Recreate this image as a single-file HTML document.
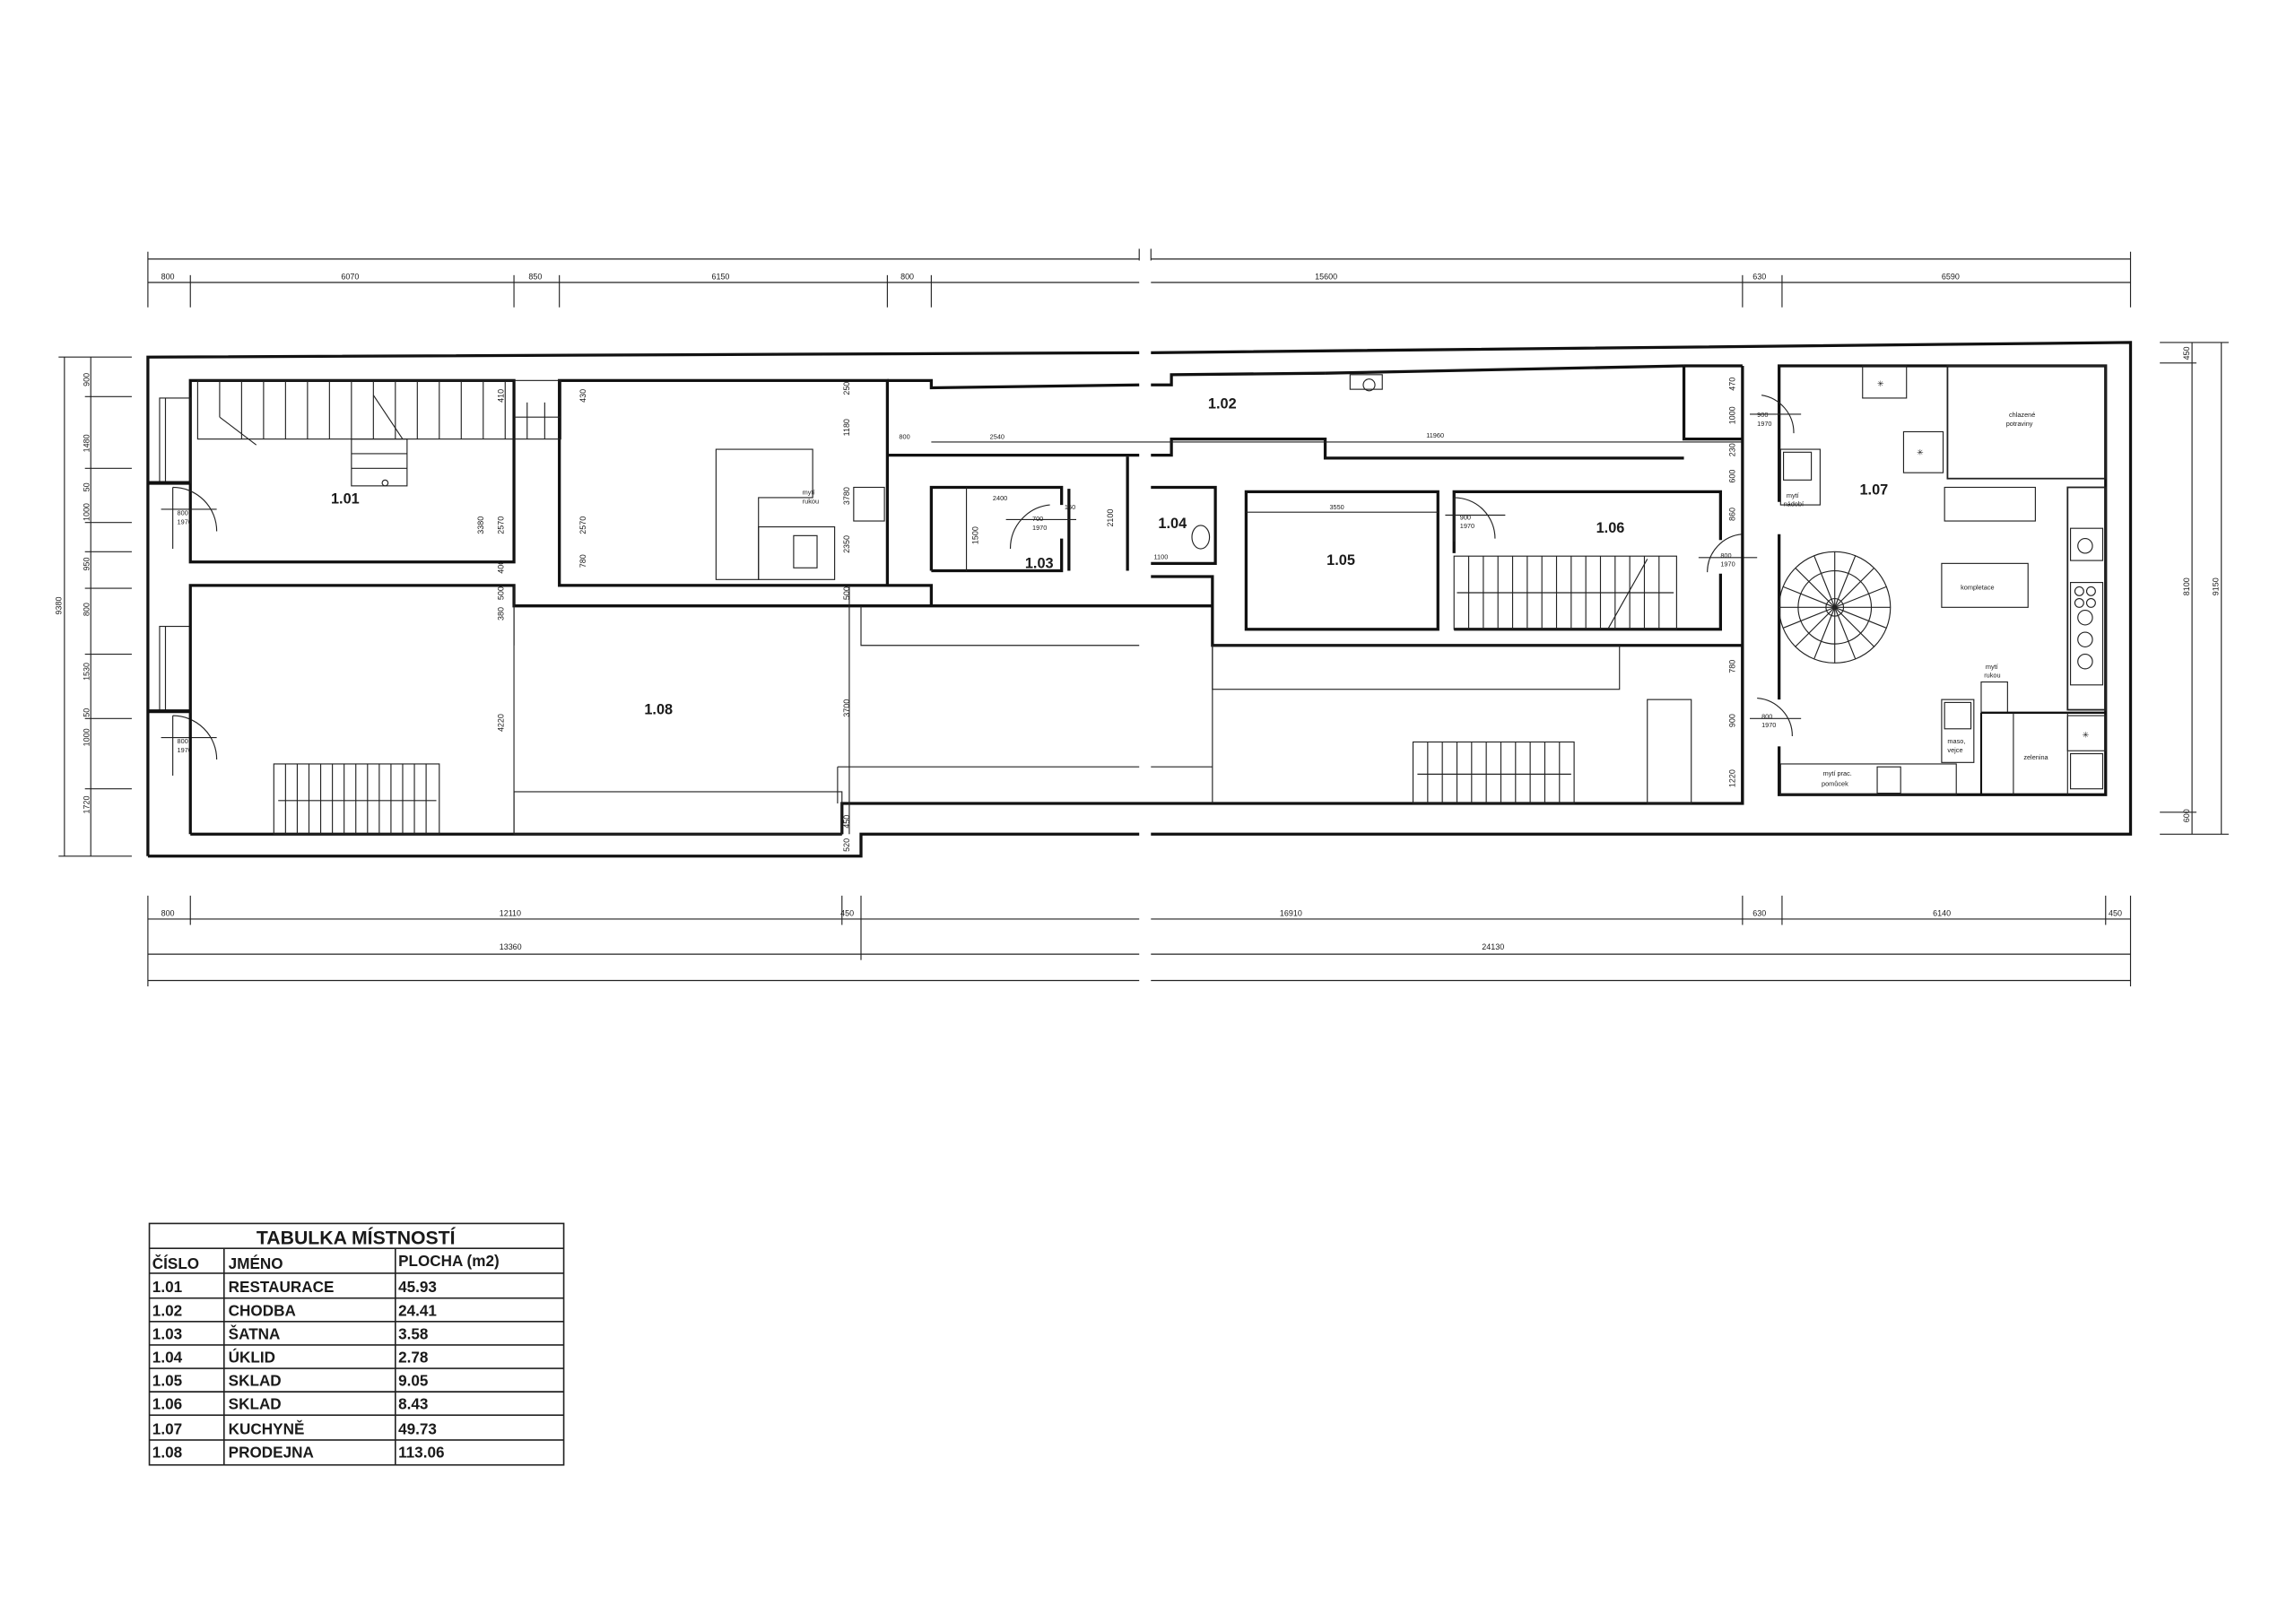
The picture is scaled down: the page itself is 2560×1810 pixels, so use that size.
<!DOCTYPE html>
<html><head><meta charset="utf-8"><style>
html,body{margin:0;padding:0;background:#fff;}
svg{display:block;}
text{font-family:"Liberation Sans",sans-serif;fill:#1a1a1a;}
.d{font-size:5.5px;}
.r{font-size:10px;font-weight:bold;}
.s{font-size:4.5px;}
.w{stroke:#111;stroke-width:2;fill:none;}
.t{stroke:#222;stroke-width:0.7;fill:none;}
.m{stroke:#222;stroke-width:1.1;fill:none;}
.tb{font-size:10.5px;font-weight:bold;}
</style></head><body>
<svg width="2560" height="1810" viewBox="0 0 1568 1109" preserveAspectRatio="none" xmlns="http://www.w3.org/2000/svg">
<rect width="1568" height="1109" fill="#fff"/>
<!-- top dimensions -->
<g class="t">
<line x1="101" y1="177" x2="778" y2="177"/><line x1="786" y1="177" x2="1455" y2="177"/>
<line x1="101" y1="193" x2="778" y2="193"/><line x1="786" y1="193" x2="1455" y2="193"/>
<line x1="101" y1="172" x2="101" y2="210"/><line x1="130" y1="188" x2="130" y2="210"/>
<line x1="351" y1="188" x2="351" y2="210"/><line x1="382" y1="188" x2="382" y2="210"/>
<line x1="606" y1="188" x2="606" y2="210"/><line x1="636" y1="188" x2="636" y2="210"/>
<line x1="1190" y1="188" x2="1190" y2="210"/><line x1="1217" y1="188" x2="1217" y2="210"/>
<line x1="1455" y1="172" x2="1455" y2="210"/>
</g>
<text class="d" x="110" y="191">800</text><text class="d" x="233" y="191">6070</text>
<text class="d" x="361" y="191">850</text><text class="d" x="486" y="191">6150</text>
<text class="d" x="615" y="191">800</text><text class="d" x="898" y="191">15600</text>
<text class="d" x="1197" y="191">630</text><text class="d" x="1326" y="191">6590</text>

<!-- left dims -->
<g class="t">
<line x1="44" y1="244" x2="44" y2="585"/><line x1="62" y1="244" x2="62" y2="585"/>
<line x1="40" y1="244" x2="90" y2="244"/><line x1="40" y1="585" x2="90" y2="585"/>
<line x1="58" y1="271" x2="90" y2="271"/><line x1="58" y1="320" x2="90" y2="320"/>
<line x1="58" y1="357" x2="90" y2="357"/><line x1="58" y1="377" x2="90" y2="377"/>
<line x1="58" y1="402" x2="90" y2="402"/><line x1="58" y1="447" x2="90" y2="447"/>
<line x1="58" y1="491" x2="90" y2="491"/><line x1="58" y1="539" x2="90" y2="539"/>
</g>
<g class="d">
<text transform="translate(61,264) rotate(-90)">900</text>
<text transform="translate(61,309) rotate(-90)">1480</text>
<text transform="translate(61,336) rotate(-90)">50</text>
<text transform="translate(61,356) rotate(-90)">1000</text>
<text transform="translate(61,390) rotate(-90)">950</text>
<text transform="translate(61,421) rotate(-90)">800</text>
<text transform="translate(61,465) rotate(-90)">1530</text>
<text transform="translate(61,490) rotate(-90)">50</text>
<text transform="translate(61,510) rotate(-90)">1000</text>
<text transform="translate(61,556) rotate(-90)">1720</text>
<text transform="translate(42,420) rotate(-90)">9380</text>
</g>

<!-- right dims -->
<g class="t">
<line x1="1497" y1="234" x2="1497" y2="570"/><line x1="1517" y1="234" x2="1517" y2="570"/>
<line x1="1475" y1="234" x2="1522" y2="234"/><line x1="1475" y1="248" x2="1500" y2="248"/>
<line x1="1475" y1="555" x2="1500" y2="555"/><line x1="1475" y1="570" x2="1522" y2="570"/>
</g>
<g class="d">
<text transform="translate(1495,246) rotate(-90)">450</text>
<text transform="translate(1495,407) rotate(-90)">8100</text>
<text transform="translate(1515,407) rotate(-90)">9150</text>
<text transform="translate(1495,562) rotate(-90)">600</text>
</g>

<!-- bottom dims -->
<g class="t">
<line x1="101" y1="628" x2="778" y2="628"/><line x1="786" y1="628" x2="1455" y2="628"/>
<line x1="101" y1="652" x2="778" y2="652"/><line x1="786" y1="652" x2="1455" y2="652"/>
<line x1="101" y1="670" x2="778" y2="670"/><line x1="786" y1="670" x2="1455" y2="670"/>
<line x1="101" y1="612" x2="101" y2="674"/><line x1="130" y1="612" x2="130" y2="632"/>
<line x1="575" y1="612" x2="575" y2="632"/><line x1="588" y1="612" x2="588" y2="656"/>
<line x1="1190" y1="612" x2="1190" y2="632"/><line x1="1217" y1="612" x2="1217" y2="632"/>
<line x1="1438" y1="612" x2="1438" y2="632"/><line x1="1455" y1="612" x2="1455" y2="674"/>
</g>
<text class="d" x="110" y="626">800</text><text class="d" x="341" y="626">12110</text>
<text class="d" x="574" y="626">450</text><text class="d" x="874" y="626">16910</text>
<text class="d" x="1197" y="626">630</text><text class="d" x="1320" y="626">6140</text>
<text class="d" x="1440" y="626">450</text>
<text class="d" x="341" y="649">13360</text><text class="d" x="1012" y="649">24130</text>

<!-- outer walls -->
<g class="w">
<polyline points="101,585 101,244 778,241"/>
<polyline points="786,241 1455,234 1455,570 786,570"/>
<polyline points="778,570 588,570 588,585 101,585"/>
</g>

<!-- room 1.01 -->
<rect class="w" x="130" y="260" width="221" height="124"/>
<rect class="w" x="382" y="260" width="224" height="140"/>
<!-- left windows -->
<g class="t">
<rect x="109" y="272" width="21" height="58"/><rect x="109" y="428" width="21" height="58"/>
<line x1="113" y1="272" x2="113" y2="330"/><line x1="113" y1="428" x2="113" y2="486"/>
</g>
<line x1="101" y1="330" x2="130" y2="330" stroke="#111" stroke-width="2.5"/>
<line x1="101" y1="486" x2="130" y2="486" stroke="#111" stroke-width="2.5"/>
<path class="t" d="M118,333 A30,30 0 0 1 148,363 M110,348 L148,348 M118,333 L118,375"/>
<path class="t" d="M118,489 A30,30 0 0 1 148,519 M110,504 L148,504 M118,489 L118,530"/>
<text class="s" x="121" y="352">800</text><text class="s" x="121" y="358">1970</text>
<text class="s" x="121" y="508">800</text><text class="s" x="121" y="514">1970</text>
<!-- stairs 1.01 -->
<g class="t">
<rect x="135" y="260" width="248" height="40"/>
<line x1="150" y1="260" x2="150" y2="285"/><line x1="165" y1="260" x2="165" y2="300"/>
<line x1="180" y1="260" x2="180" y2="300"/><line x1="195" y1="260" x2="195" y2="300"/>
<line x1="210" y1="260" x2="210" y2="300"/><line x1="225" y1="260" x2="225" y2="300"/>
<line x1="240" y1="260" x2="240" y2="300"/><line x1="255" y1="260" x2="255" y2="300"/>
<line x1="270" y1="260" x2="270" y2="300"/><line x1="285" y1="260" x2="285" y2="300"/>
<line x1="300" y1="260" x2="300" y2="300"/><line x1="315" y1="260" x2="315" y2="300"/>
<line x1="330" y1="260" x2="330" y2="300"/><line x1="345" y1="260" x2="345" y2="300"/>
<line x1="360" y1="275" x2="360" y2="300"/><line x1="372" y1="275" x2="372" y2="300"/>
<line x1="351" y1="285" x2="383" y2="285"/>
<rect x="240" y="300" width="38" height="32"/>
<line x1="240" y1="310" x2="278" y2="310"/><line x1="240" y1="320" x2="278" y2="320"/>
<circle cx="263" cy="330" r="2"/>
<line x1="150" y1="285" x2="175" y2="304"/><line x1="255" y1="270" x2="275" y2="300"/>
</g>
<text class="r" x="226" y="344">1.01</text>
<!-- kitchen counter room -->
<path class="t" d="M489,307 L555,307 L555,340 L518,340 L518,396 L489,396 Z"/>
<rect class="t" x="518" y="360" width="52" height="36"/>
<rect class="t" x="583" y="333" width="21" height="23"/><rect class="t" x="542" y="366" width="16" height="22"/>
<text class="s" x="548" y="338">mytí</text><text class="s" x="548" y="344">rukou</text>

<!-- 1.08 area -->
<g class="w">
<polyline points="130,570 130,400 351,400 351,414 828,414"/>
<polyline points="130,570 575,570"/>
<polyline points="575,570 575,549 1190,549 1190,441 828,441 828,394 786,394"/>
</g>
<g class="t">
<polyline points="588,414 588,441 778,441"/>
<line x1="351" y1="414" x2="351" y2="441"/>
<rect x="351" y="541" width="224" height="29"/>
<line x1="572" y1="524" x2="778" y2="524"/><line x1="572" y1="524" x2="572" y2="549"/>
<line x1="786" y1="524" x2="828" y2="524"/>
<line x1="828" y1="441" x2="828" y2="549"/>
<rect x="828" y="441" width="278" height="30"/>
<rect x="1125" y="478" width="30" height="71"/>
<line x1="351" y1="400" x2="351" y2="570"/><line x1="580" y1="400" x2="580" y2="570"/>
</g>
<!-- stairs lower left -->
<g class="t">
<rect x="187" y="522" width="113" height="48"/>
<line x1="195" y1="522" x2="195" y2="570"/><line x1="203" y1="522" x2="203" y2="570"/>
<line x1="211" y1="522" x2="211" y2="570"/><line x1="219" y1="522" x2="219" y2="570"/>
<line x1="227" y1="522" x2="227" y2="570"/><line x1="235" y1="522" x2="235" y2="570"/>
<line x1="243" y1="522" x2="243" y2="570"/><line x1="251" y1="522" x2="251" y2="570"/>
<line x1="259" y1="522" x2="259" y2="570"/><line x1="267" y1="522" x2="267" y2="570"/>
<line x1="275" y1="522" x2="275" y2="570"/><line x1="283" y1="522" x2="283" y2="570"/>
<line x1="291" y1="522" x2="291" y2="570"/>
<line x1="190" y1="547" x2="298" y2="547"/>
</g>
<text class="r" x="440" y="488">1.08</text>
<g class="d">
<text transform="translate(330,365) rotate(-90)">3380</text>
<text transform="translate(344,365) rotate(-90)">2570</text>
<text transform="translate(400,365) rotate(-90)">2570</text>
<text transform="translate(344,500) rotate(-90)">4220</text>
<text transform="translate(580,490) rotate(-90)">3700</text>
<text transform="translate(580,345) rotate(-90)">3780</text>
<text transform="translate(580,298) rotate(-90)">1180</text>
<text transform="translate(580,378) rotate(-90)">2350</text>
<text transform="translate(580,410) rotate(-90)">500</text>
<text transform="translate(580,566) rotate(-90)">450</text>
<text transform="translate(580,582) rotate(-90)">520</text>
<text transform="translate(400,388) rotate(-90)">780</text>
<text transform="translate(344,392) rotate(-90)">400</text>
<text transform="translate(344,410) rotate(-90)">500</text>
<text transform="translate(344,424) rotate(-90)">380</text>
<text transform="translate(344,275) rotate(-90)">410</text>
<text transform="translate(400,275) rotate(-90)">430</text>
<text transform="translate(580,270) rotate(-90)">250</text>
</g>

<!-- corridor 1.02 -->
<g class="w">
<polyline points="606,400 636,400 636,413"/>
<polyline points="606,260 636,260 636,265 778,263"/>
<polyline points="786,263 800,263 800,256 905,255"/><polyline points="905,255 1150,250"/>
<polyline points="1150,250 1150,300 1190,300"/><polyline points="1150,250 1190,250"/>
<polyline points="606,311 778,311"/><polyline points="786,311 800,311 800,300 905,300 905,313 1150,313"/>
</g>
<line class="t" x1="636" y1="302" x2="1190" y2="302"/>
<text class="s" x="614" y="300">800</text><text class="s" x="676" y="300">2540</text>
<text class="s" x="974" y="299">11960</text>
<text class="r" x="825" y="279">1.02</text>
<g class="t"><rect x="922" y="256" width="22" height="10"/><circle cx="935" cy="263" r="4"/></g>
<!-- 1.03 -->
<g class="w">
<polyline points="636,390 636,333 725,333 725,345"/><polyline points="725,368 725,390 636,390"/>
<line x1="730" y1="334" x2="730" y2="390"/><line x1="770" y1="312" x2="770" y2="390"/>
</g>
<line class="t" x1="660" y1="333" x2="660" y2="390"/>
<path class="t" d="M717,345 A30,30 0 0 0 690,375 L690,375 M687,355 L735,355"/>
<text class="s" x="678" y="342">2400</text><text class="s" x="705" y="356">700</text><text class="s" x="705" y="362">1970</text>
<text class="s" x="727" y="348">150</text>
<text class="r" x="700" y="388">1.03</text>
<text transform="translate(760,360) rotate(-90)" class="d">2100</text>
<text transform="translate(668,372) rotate(-90)" class="d">1500</text>
<!-- 1.04 -->
<polyline class="w" points="786,333 830,333 830,385 786,385"/>
<text class="r" x="791" y="361">1.04</text>
<text class="s" x="788" y="382">1100</text>
<ellipse class="t" cx="820" cy="367" rx="6" ry="8"/>
<!-- 1.05 / 1.06 -->
<rect class="w" x="851" y="336" width="131" height="94"/>
<line class="t" x1="851" y1="350" x2="982" y2="350"/>
<text class="s" x="908" y="348">3550</text>
<text class="r" x="906" y="386">1.05</text>
<polyline class="w" points="993,378 993,336 1175,336 1175,369"/>
<polyline class="w" points="1175,392 1175,430 993,430"/>
<path class="t" d="M993,340 A28,28 0 0 1 1021,368 M987,352 L1028,352 M993,340 L993,370"/>
<text class="s" x="997" y="355">900</text><text class="s" x="997" y="361">1970</text>
<text class="r" x="1090" y="364">1.06</text>
<g class="t">
<rect x="993" y="380" width="152" height="50"/>
<line x1="1003" y1="380" x2="1003" y2="430"/><line x1="1013" y1="380" x2="1013" y2="430"/>
<line x1="1023" y1="380" x2="1023" y2="430"/><line x1="1033" y1="380" x2="1033" y2="430"/>
<line x1="1043" y1="380" x2="1043" y2="430"/><line x1="1053" y1="380" x2="1053" y2="430"/>
<line x1="1063" y1="380" x2="1063" y2="430"/><line x1="1073" y1="380" x2="1073" y2="430"/>
<line x1="1083" y1="380" x2="1083" y2="430"/><line x1="1093" y1="380" x2="1093" y2="430"/>
<line x1="1103" y1="380" x2="1103" y2="430"/><line x1="1113" y1="380" x2="1113" y2="430"/>
<line x1="1123" y1="380" x2="1123" y2="430"/><line x1="1133" y1="380" x2="1133" y2="430"/>
<line x1="995" y1="405" x2="1143" y2="405"/><line x1="1098" y1="430" x2="1125" y2="382"/>
</g>
<path class="t" d="M1190,365 A26,26 0 0 0 1166,391 M1160,381 L1200,381"/>
<text class="s" x="1175" y="381">800</text><text class="s" x="1175" y="387">1970</text>
<!-- stairs lower right -->
<g class="t">
<rect x="965" y="507" width="110" height="42"/>
<line x1="975" y1="507" x2="975" y2="549"/><line x1="985" y1="507" x2="985" y2="549"/>
<line x1="995" y1="507" x2="995" y2="549"/><line x1="1005" y1="507" x2="1005" y2="549"/>
<line x1="1015" y1="507" x2="1015" y2="549"/><line x1="1025" y1="507" x2="1025" y2="549"/>
<line x1="1035" y1="507" x2="1035" y2="549"/><line x1="1045" y1="507" x2="1045" y2="549"/>
<line x1="1055" y1="507" x2="1055" y2="549"/><line x1="1065" y1="507" x2="1065" y2="549"/>
<line x1="968" y1="529" x2="1073" y2="529"/>
</g>
<g class="d">
<text transform="translate(1185,267) rotate(-90)">470</text>
<text transform="translate(1185,290) rotate(-90)">1000</text>
<text transform="translate(1185,312) rotate(-90)">230</text>
<text transform="translate(1185,330) rotate(-90)">600</text>
<text transform="translate(1185,356) rotate(-90)">860</text>
<text transform="translate(1185,460) rotate(-90)">780</text>
<text transform="translate(1185,497) rotate(-90)">900</text>
<text transform="translate(1185,538) rotate(-90)">1220</text>
</g>

<!-- kitchen 1.07 -->
<g class="w">
<polyline points="1215,343 1215,250 1438,250 1438,543 1215,543 1215,510"/>
<line x1="1215" y1="365" x2="1215" y2="478"/>
<line x1="1190" y1="250" x2="1190" y2="549"/>
</g>
<path class="t" d="M1203,270 A26,26 0 0 1 1225,296 M1195,283 L1230,283"/>
<text class="s" x="1200" y="285">900</text><text class="s" x="1200" y="291">1970</text>
<path class="t" d="M1200,477 A26,26 0 0 1 1224,503 M1195,491 L1230,491"/>
<text class="s" x="1203" y="491">800</text><text class="s" x="1203" y="497">1970</text>
<rect class="t" x="1272" y="250" width="30" height="22"/><text class="d" x="1282" y="264">✳</text>
<rect class="m" x="1330" y="250" width="108" height="77"/>
<text class="s" x="1372" y="285">chlazené</text><text class="s" x="1370" y="291">potraviny</text>
<rect class="t" x="1300" y="295" width="27" height="28"/><text class="d" x="1309" y="311">✳</text>
<text class="r" x="1270" y="338">1.07</text>
<rect class="t" x="1216" y="307" width="27" height="38"/><rect class="t" x="1218" y="309" width="19" height="19"/>
<text class="s" x="1220" y="340">mytí</text><text class="s" x="1218" y="346">nádobí</text>
<rect class="t" x="1328" y="333" width="62" height="23"/>
<rect class="m" x="1412" y="333" width="26" height="152"/>
<g class="t">
<circle cx="1424" cy="373" r="5"/>
<circle cx="1420" cy="404" r="3"/><circle cx="1428" cy="404" r="3"/>
<circle cx="1420" cy="412" r="3"/><circle cx="1428" cy="412" r="3"/>
<circle cx="1424" cy="422" r="5"/><circle cx="1424" cy="437" r="5"/><circle cx="1424" cy="452" r="5"/>
<rect x="1414" y="361" width="22" height="22"/><rect x="1414" y="398" width="22" height="70"/>
</g>
<rect class="t" x="1326" y="385" width="59" height="30"/>
<text class="s" x="1339" y="403">kompletace</text>
<g class="t">
<circle cx="1253" cy="415" r="38"/><circle cx="1253" cy="415" r="25"/><circle cx="1253" cy="415" r="6"/>
<line x1="1253" y1="377" x2="1253" y2="453"/><line x1="1215" y1="415" x2="1291" y2="415"/>
<line x1="1226" y1="388" x2="1280" y2="442"/><line x1="1226" y1="442" x2="1280" y2="388"/>
<line x1="1239" y1="380" x2="1267" y2="450"/><line x1="1239" y1="450" x2="1267" y2="380"/>
<line x1="1218" y1="401" x2="1288" y2="429"/><line x1="1218" y1="429" x2="1288" y2="401"/>
</g>
<text class="s" x="1356" y="457">mytí</text><text class="s" x="1355" y="463">rukou</text>
<rect class="t" x="1353" y="466" width="18" height="21"/>
<rect class="t" x="1326" y="478" width="22" height="43"/><rect class="t" x="1328" y="480" width="18" height="18"/>
<text class="s" x="1330" y="508">maso,</text><text class="s" x="1330" y="514">vejce</text>
<line x1="1353" y1="487" x2="1438" y2="487" stroke="#111" stroke-width="1.5"/>
<line x1="1353" y1="487" x2="1353" y2="543" stroke="#111" stroke-width="1.3"/>
<line class="t" x1="1375" y1="487" x2="1375" y2="543"/><line class="t" x1="1412" y1="487" x2="1412" y2="543"/>
<text class="s" x="1382" y="519">zelenina</text>
<rect class="t" x="1412" y="489" width="26" height="24"/><text class="d" x="1422" y="504">✳</text>
<rect class="t" x="1414" y="515" width="22" height="24"/>
<rect class="t" x="1216" y="522" width="120" height="21"/><rect class="t" x="1282" y="524" width="16" height="18"/>
<text class="s" x="1245" y="530">mytí prac.</text><text class="s" x="1244" y="537">pomůcek</text>

<!-- break marks -->
<line class="t" x1="778" y1="170" x2="778" y2="178"/><line class="t" x1="786" y1="170" x2="786" y2="178"/>

<!-- table -->
<g stroke="#222" stroke-width="1" fill="none">
<rect x="102" y="836" width="283" height="165"/>
<line x1="102" y1="853" x2="385" y2="853"/>
<line x1="102" y1="870" x2="385" y2="870"/>
<line x1="102" y1="887" x2="385" y2="887"/>
<line x1="102" y1="903" x2="385" y2="903"/>
<line x1="102" y1="919" x2="385" y2="919"/>
<line x1="102" y1="935" x2="385" y2="935"/>
<line x1="102" y1="951" x2="385" y2="951"/>
<line x1="102" y1="967" x2="385" y2="967"/>
<line x1="102" y1="984" x2="385" y2="984"/>
<line x1="153" y1="853" x2="153" y2="1001"/>
<line x1="270" y1="853" x2="270" y2="1001"/>
</g>
<text class="tb" x="243" y="850" text-anchor="middle" style="font-size:13px">TABULKA MÍSTNOSTÍ</text>
<g class="tb">
<text x="104" y="867">ČÍSLO</text><text x="156" y="867">JMÉNO</text><text x="272" y="865">PLOCHA (m2)</text>
<text x="104" y="883">1.01</text><text x="156" y="883">RESTAURACE</text><text x="272" y="883">45.93</text>
<text x="104" y="899">1.02</text><text x="156" y="899">CHODBA</text><text x="272" y="899">24.41</text>
<text x="104" y="915">1.03</text><text x="156" y="915">ŠATNA</text><text x="272" y="915">3.58</text>
<text x="104" y="931">1.04</text><text x="156" y="931">ÚKLID</text><text x="272" y="931">2.78</text>
<text x="104" y="947">1.05</text><text x="156" y="947">SKLAD</text><text x="272" y="947">9.05</text>
<text x="104" y="963">1.06</text><text x="156" y="963">SKLAD</text><text x="272" y="963">8.43</text>
<text x="104" y="980">1.07</text><text x="156" y="980">KUCHYNĚ</text><text x="272" y="980">49.73</text>
<text x="104" y="996">1.08</text><text x="156" y="996">PRODEJNA</text><text x="272" y="996">113.06</text>
</g>
</svg>
</body></html>
